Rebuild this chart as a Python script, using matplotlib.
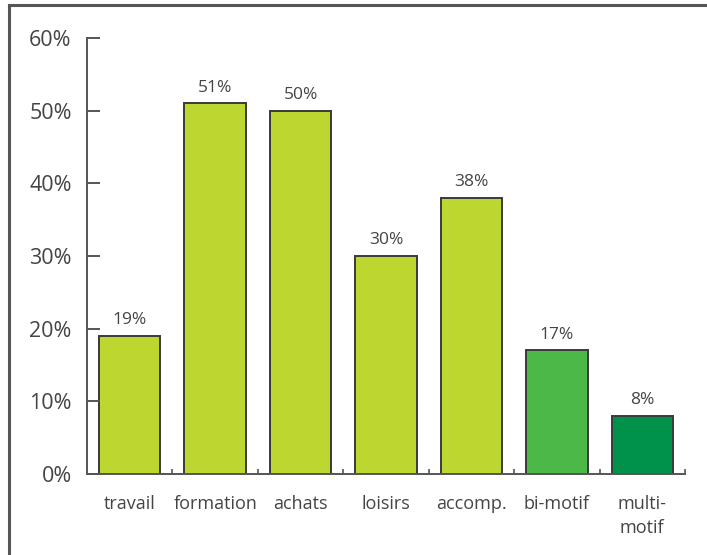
import matplotlib
matplotlib.use("Agg")
import matplotlib.pyplot as plt
from matplotlib.lines import Line2D

categories = ["travail", "formation", "achats", "loisirs", "accomp.", "bi-motif", "multi-\nmotif"]
values = [19, 51, 50, 30, 38, 17, 8]
colors = ["#bdd630", "#bdd630", "#bdd630", "#bdd630", "#bdd630", "#4cb848", "#00914a"]
yticks = [0, 10, 20, 30, 40, 50, 60]

plt.rcParams['font.family'] = ['Open Sans', 'DejaVu Sans']
txt = "#444444"

fig = plt.figure(figsize=(7.07, 5.55), dpi=100)
ax = fig.add_axes([87/707, 81/555, 598/707, 436/555])

x = range(len(categories))
ax.bar(x, values, width=0.72, color=colors, edgecolor="#3a3a3a", linewidth=1.4)
for i, v in zip(x, values):
    ax.text(i, v + 1.6, f"{v}%", ha="center", va="baseline", fontsize=12.5, color=txt)

ax.set_xlim(-0.5, 6.5)
ax.set_ylim(0, 60)
ax.set_yticks(yticks)
ax.set_yticklabels([f"{t}%" for t in yticks], fontsize=15.5, color=txt)
ax.set_xticks([i + 0.5 for i in range(len(categories))])
ax.set_xticklabels([])
ax.set_xticks(list(x), minor=True)
ax.set_xticklabels(categories, minor=True, fontsize=13, color=txt, linespacing=1.45)
ax.tick_params(axis="x", which="minor", length=0, pad=15)
ax.tick_params(axis="x", which="major", direction="in", length=3.5, width=1.2, color="#555555")
ax.tick_params(axis="y", direction="in", length=9.5, width=1.4, color="#555555", pad=11)

for s in ["top", "right"]:
    ax.spines[s].set_visible(False)
for s in ["left", "bottom"]:
    ax.spines[s].set_color("#555555")
    ax.spines[s].set_linewidth(1.4)

# frame lines at top and left of the image
fig.add_artist(Line2D([9/707, 1], [1 - 5/555, 1 - 5/555], color="#555555", linewidth=2.2, transform=fig.transFigure))
fig.add_artist(Line2D([9/707, 9/707], [0, 1 - 5/555], color="#555555", linewidth=2.2, transform=fig.transFigure))

fig.savefig("out.png", dpi=100)
